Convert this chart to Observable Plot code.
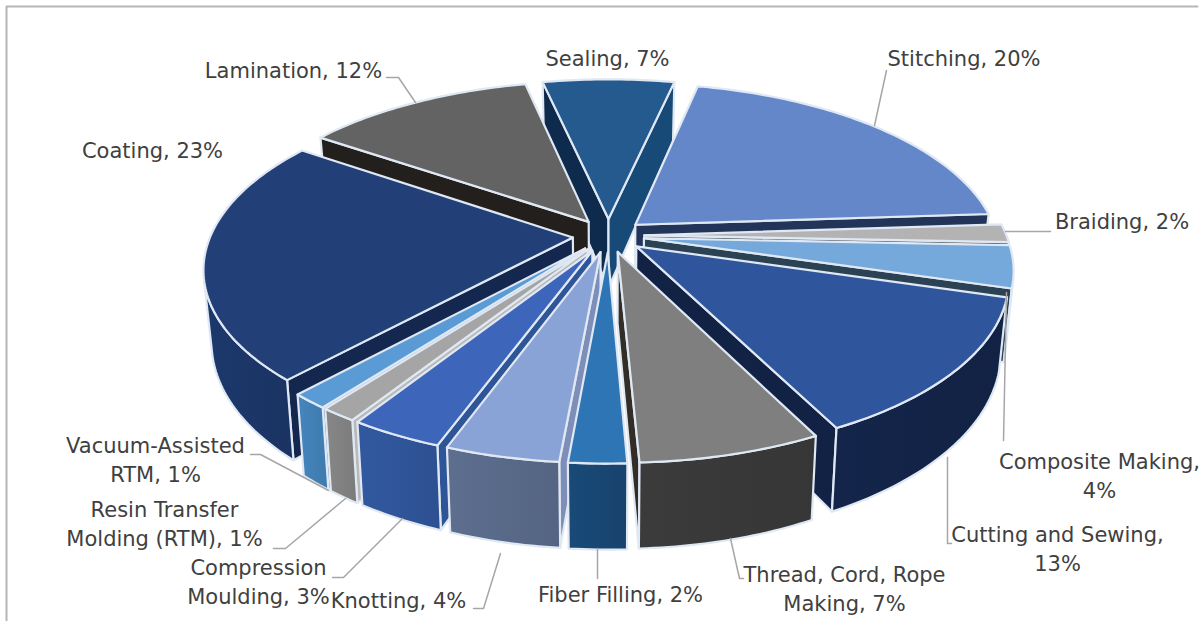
<!DOCTYPE html>
<html>
<head>
<meta charset="utf-8">
<script src="https://cdn.jsdelivr.net/npm/d3@7"></script>
<script src="https://cdn.jsdelivr.net/npm/@observablehq/plot@0.6"></script>
<style>html,body{margin:0;padding:0;background:#fff;overflow:hidden}svg{display:block}</style>
</head>
<body>
<div id="chart"></div>
<script>
// Data
const categories = ["Sealing","Stitching","Braiding","Composite Making","Cutting and Sewing","Thread, Cord, Rope Making","Fiber Filling","Knotting","Compression Moulding","Resin Transfer Molding (RTM)","Vacuum-Assisted RTM","Coating","Lamination"];
const shares = [6.9,20.5,1.7,3.9,13,6.74,2.13,4.2,3.45,1.35,1.4,22.68,12.05];
const labels = ["Sealing, 7%","Stitching, 20%","Braiding, 2%","Composite Making,\n4%","Cutting and Sewing,\n13%","Thread, Cord, Rope\nMaking, 7%","Fiber Filling, 2%","Knotting, 4%","Compression\nMoulding, 3%","Resin Transfer\nMolding (RTM), 1%","Vacuum-Assisted\nRTM, 1%","Coating, 23%","Lamination, 12%"];

// Styles, per slice
const topColors  = ["#255a8f","#6487c9","#b3b3b3","#75a9db","#2f559c","#7f7f7f","#2e75b6","#8aa3d6","#3d66bb","#a5a5a5","#5b9bd5","#223f77","#636363"];
const arcColors  = ["#184a78","#3c5078","#6c6c6c","#46658a","#132347","#383838","#184672","#586888","#2f5498","#808080","#417fb4","#1b3566","#3c3c3c"];
const startWalls = ["#0e2a4d","#1e3050","#444","#2b4255","#112245","#2c2824","#123556","#7d8fb8","#2d5597","#b9b9b9","#3f78ac","#14284f","#231f1c"];
const endWalls   = ["#184a78","#223558","#3f4a55","#2b4255","#112245","#332d28","#123556","#5f7098","#2d5597","#7a7a7a","#27507e","#14284f","#231f1c"];

// Layout of the labels
const labelX = [607,963.5,1121.5,1099,1057,844,620,398,258,164,155,152,293];
const labelY = [56,56,219,474,547,587,592,598,580,522,458,148,68];
const leaders = [
  [[886,70],[874,125]],
  [[1050,231],[1005,231]],
  [[1006,292],[1003,440]],
  [[947,457],[947,543],[951,543]],
  [[730,538],[739,578],[743,578]],
  [[597,548],[597,578]],
  [[500,553],[483,608],[473,608]],
  [[402,518],[343,577],[332,577]],
  [[345,498],[285,548],[273,548]],
  [[328,490],[260,454],[250,454]],
  [[386,77],[398,77],[415,102]]
];

// Perspective view of the exploded pie
const cx = 608, cy = 235, A = 185.4, B = 398, k = 0.187, h = 70, shrink = 0.98;
const explode = 0.09, radius = 0.91;
const rad = d => d * Math.PI / 180;
const view = (X, Y, z) => {
  const s = 1 / (1 - k * Y);
  return [cx + B * X * s * (z ? shrink : 1), cy + A * Y * s + (z ? h * s : 0)];
};
const dirOf = a => [Math.sin(rad(a)), -Math.cos(rad(a))];

const total = d3.sum(shares);
let acc = -shares[0] / total * 180;
const slices = shares.map((v, i) => {
  const a0 = acc, a1 = acc + v / total * 360;
  acc = a1;
  const mid = (a0 + a1) / 2;
  const [dx, dy] = dirOf(mid);
  const ox = dx * explode, oy = dy * explode;
  const rim = [];
  const n = Math.max(2, Math.ceil((a1 - a0) / 1));
  for (let j = 0; j <= n; j++) {
    const [ux, uy] = dirOf(a0 + (a1 - a0) * j / n);
    rim.push([ox + ux * radius, oy + uy * radius]);
  }
  return {i, a0, a1, mid, apex: [ox, oy], rim, depth: dy};
});

const polys = [];
let pid = 0;
const addPoly = (pts, fill, stroke) => {
  const id = pid++;
  pts.forEach(p => polys.push({id, x: p[0], y: p[1], fill, stroke}));
};
const faces = pts => d3.polygonArea(pts) > 0;
const quad = (a, b) => [view(a[0], a[1], 0), view(b[0], b[1], 0), view(b[0], b[1], 1), view(a[0], a[1], 1)];
const edge = "#dfe8f3";

[...slices].sort((p, q) => p.depth - q.depth).forEach(s => {
  const start = quad(s.apex, s.rim[0]);
  if (faces(start)) addPoly(start, startWalls[s.i], edge);
  const end = quad(s.rim[s.rim.length - 1], s.apex);
  if (faces(end)) addPoly(end, endWalls[s.i], edge);
  const vis = [];
  for (let j = 0; j < s.rim.length - 1; j++) {
    if (faces(quad(s.rim[j], s.rim[j + 1]))) {
      if (!vis.length) vis.push(s.rim[j]);
      vis.push(s.rim[j + 1]);
    }
  }
  if (vis.length > 1) {
    addPoly([...vis.map(p => view(p[0], p[1], 0)), ...vis.slice().reverse().map(p => view(p[0], p[1], 1))], `url(#arc${s.i})`, edge);
  }
  addPoly([view(s.apex[0], s.apex[1], 0), ...s.rim.map(p => view(p[0], p[1], 0))], topColors[s.i], edge);
});

// Soft left-to-right shading of the outer walls
const gradients = () => {
  const defs = d3.create("svg:defs");
  arcColors.forEach((c, i) => {
    const g = defs.append("linearGradient").attr("id", `arc${i}`);
    g.append("stop").attr("offset", "0%").attr("stop-color", d3.color(c).brighter(0.15).formatHex());
    g.append("stop").attr("offset", "100%").attr("stop-color", d3.color(c).darker(0.12).formatHex());
  });
  return defs.node();
};

const labelRows = labels.map((t, i) => ({t, x: labelX[i], y: labelY[i], name: categories[i]}));
const leaderRows = leaders.flatMap((l, i) => l.map(p => ({id: i, x: p[0], y: p[1]})));
const frameRows = [[6,621],[6,6],[1197,6]].map(p => ({x: p[0], y: p[1]}));

const font = "'DejaVu Sans',sans-serif";
const chart = Plot.plot({
  width: 1202, height: 621,
  margin: 0,
  x: {domain: [0, 1202], range: [0, 1202], axis: null},
  y: {domain: [0, 621], range: [0, 621], axis: null},
  style: {background: "#fff", fontFamily: font},
  marks: [
    gradients,
    Plot.line(frameRows, {x: "x", y: "y", stroke: "#b5b5b5", strokeWidth: 2}),
    Plot.line(polys, {x: "x", y: "y", z: "id", fill: {value: "fill", scale: null}, stroke: "stroke", strokeWidth: 2.2, curve: "linear-closed", strokeLinejoin: "round"}),
    Plot.line(leaderRows, {x: "x", y: "y", z: "id", stroke: "#a6a6a6", strokeWidth: 1.5}),
    Plot.text(labelRows, {x: "x", y: "y", text: "t", fontSize: 21, lineHeight: 1.38, fill: "#404040", fontFamily: font})
  ]
});
document.getElementById("chart").append(chart);
</script>
</body>
</html>
